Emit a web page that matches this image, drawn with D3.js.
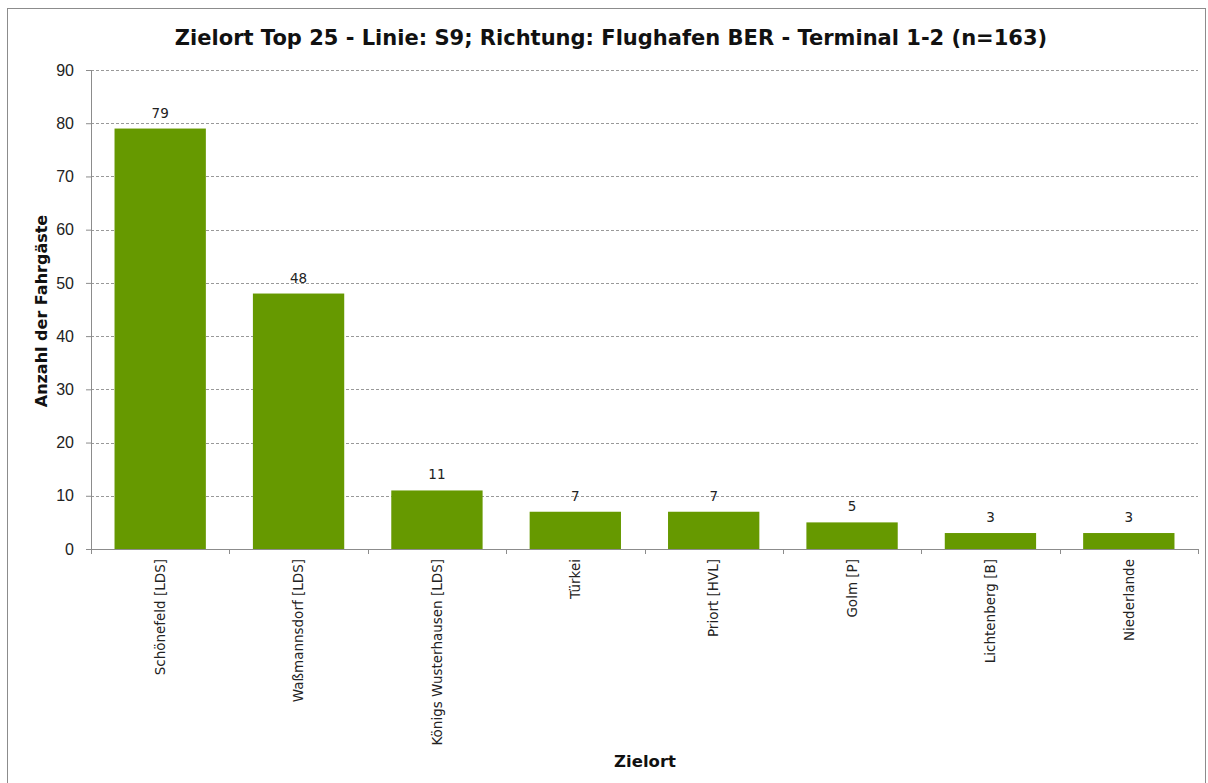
<!DOCTYPE html>
<html>
<head>
<meta charset="utf-8">
<script src="https://cdn.jsdelivr.net/npm/d3@7"></script>
<style>
  body { margin: 0; background: #fff; }
  text { font-family: "DejaVu Sans", Verdana, sans-serif; }
</style>
</head>
<body>
<svg width="1208" height="783"></svg>
<script>
const svg = d3.select('svg');
const width = +svg.attr('width');
const height = +svg.attr('height');

// data
const categories = ['Schönefeld [LDS]', 'Waßmannsdorf [LDS]', 'Königs Wusterhausen [LDS]', 'Türkei',
  'Priort [HVL]', 'Golm [P]', 'Lichtenberg [B]', 'Niederlande'];
const counts = [79, 48, 11, 7, 7, 5, 3, 3];
const yTicks = [0, 10, 20, 30, 40, 50, 60, 70, 80, 90];

const titleText = 'Zielort Top 25 - Linie: S9; Richtung: Flughafen BER - Terminal 1-2 (n=163)';

// margins
const margin = {top: 70, left: 91, right: 10, bottom: 234};
const innerW = width - margin.left - margin.right;
const innerH = height - margin.top - margin.bottom;

// frame
svg.append('rect')
  .attr('x', 7.5).attr('y', 8.5)
  .attr('width', 1198).attr('height', 800)
  .attr('fill', 'none').attr('stroke', '#8c8c8c');

const g = svg.append('g')
  .attr('transform', `translate(${margin.left},${margin.top})`);

const xscale = d3.scaleBand()
  .domain(categories)
  .range([0, innerW])
  .padding(0);

const yscale = d3.scaleLinear()
  .domain([0, 90])
  .range([innerH, 0]);

// grid lines
g.selectAll('.grid').data(yTicks.filter(d => d > 0))
  .enter().append('line')
  .attr('x1', 0).attr('x2', innerW)
  .attr('y1', d => Math.round(yscale(d)) + 0.5)
  .attr('y2', d => Math.round(yscale(d)) + 0.5)
  .attr('stroke', '#999')
  .attr('stroke-dasharray', '3,2');

// bars
const barW = xscale.bandwidth() * 0.66;
g.selectAll('rect.bar').data(counts)
  .enter().append('rect')
  .attr('class', 'bar')
  .attr('x', (d, i) => xscale(categories[i]) + (xscale.bandwidth() - barW) / 2)
  .attr('y', d => yscale(d))
  .attr('width', barW)
  .attr('height', d => innerH - yscale(d))
  .attr('fill', '#669900');

// value labels
g.selectAll('text.val').data(counts)
  .enter().append('text')
  .attr('class', 'val')
  .attr('x', (d, i) => xscale(categories[i]) + xscale.bandwidth() / 2)
  .attr('y', d => yscale(d) - 11)
  .attr('text-anchor', 'middle')
  .attr('font-size', 13.5)
  .attr('fill', '#222')
  .text(d => d);

// y axis
const yAxis = g.append('g')
  .call(d3.axisLeft(yscale).tickValues(yTicks).tickSize(5).tickPadding(12));
yAxis.selectAll('text').attr('font-size', 16).attr('fill', '#222')
  .style('font-family', '"Liberation Sans", Arial, sans-serif');
yAxis.selectAll('line').attr('stroke', '#8c8c8c');
yAxis.select('.domain').attr('stroke', '#8c8c8c').attr('d', `M0.5,0V${innerH}`);

// x axis
const xAxis = g.append('g')
  .attr('transform', `translate(0,${innerH})`)
  .call(d3.axisBottom(xscale).tickSize(0).tickPadding(0));
xAxis.select('.domain').attr('stroke', '#8c8c8c').attr('d', `M0,0.5H${innerW}`);
xAxis.selectAll('.tick text')
  .attr('transform', 'rotate(-90)')
  .attr('x', -10).attr('y', 0).attr('dy', '0.35em')
  .attr('text-anchor', 'end')
  .attr('font-size', 13.5)
  .attr('fill', '#222');

// tick marks at category boundaries
g.selectAll('.xtick').data(d3.range(categories.length + 1))
  .enter().append('line')
  .attr('x1', i => Math.round(i * xscale.step()) + 0.5)
  .attr('x2', i => Math.round(i * xscale.step()) + 0.5)
  .attr('y1', innerH).attr('y2', innerH + 5)
  .attr('stroke', '#8c8c8c');

// titles
svg.append('text')
  .text(titleText)
  .attr('x', 611).attr('y', 45)
  .attr('text-anchor', 'middle')
  .attr('font-size', 21).attr('font-weight', 'bold')
  .attr('fill', '#111');

svg.append('text')
  .text('Zielort')
  .attr('x', 645).attr('y', 767)
  .attr('text-anchor', 'middle')
  .attr('font-size', 16.5).attr('font-weight', 'bold')
  .attr('fill', '#111');

svg.append('text')
  .text('Anzahl der Fahrgäste')
  .attr('transform', 'translate(47,311) rotate(-90)')
  .attr('text-anchor', 'middle')
  .attr('font-size', 16).attr('font-weight', 'bold')
  .attr('fill', '#111');
</script>
</body>
</html>
